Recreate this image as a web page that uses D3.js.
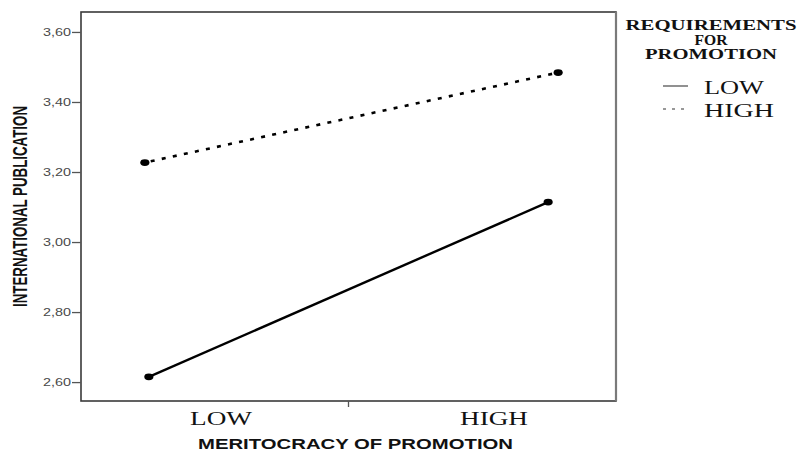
<!DOCTYPE html>
<html>
<head>
<meta charset="utf-8">
<script src="https://cdn.jsdelivr.net/npm/d3@7"></script>
<style>
  html, body { margin: 0; padding: 0; background: #fff; }
  svg { display: block; }
</style>
</head>
<body>
<svg id="chart" width="800" height="454"></svg>
<script>
// ---- data ----
const categories = ["LOW", "HIGH"];                 // meritocracy of promotion
const seriesNames = ["LOW", "HIGH"];                // requirements for promotion
const lowRequirementValues = [2.615, 3.114];
const highRequirementValues = [3.227, 3.484];
const yTickValues = [2.6, 2.8, 3.0, 3.2, 3.4, 3.6];
const xAxisTitle = "MERITOCRACY OF PROMOTION";
const yAxisTitle = "INTERNATIONAL PUBLICATION";
const legendTitleLines = ["REQUIREMENTS", "FOR", "PROMOTION"];

// ---- layout / style ----
const W = 800, H = 454;
const plot = { left: 81, top: 12, right: 616, bottom: 401 };
const series = [
  { name: seriesNames[0], values: lowRequirementValues, dash: null, nudge: [3, -3] },
  { name: seriesNames[1], values: highRequirementValues, dash: "4,7.3", nudge: [-1, 7] }
];

const svg = d3.select("#chart");
svg.append("rect").attr("width", W).attr("height", H).attr("fill", "#fff");

const y = d3.scaleLinear().domain([2.546, 3.657]).range([plot.bottom, plot.top]);
const x = d3.scalePoint().domain(categories).range([plot.left, plot.right]).padding(0.16);
const xLabel = d3.scalePoint().domain(categories).range([221, 494]);

// frame
svg.append("rect")
  .attr("x", plot.left).attr("y", plot.top)
  .attr("width", plot.right - plot.left).attr("height", plot.bottom - plot.top)
  .attr("fill", "none").attr("stroke", "#3a3a3a").attr("stroke-width", 1.6);
svg.append("line")
  .attr("x1", plot.right).attr("x2", plot.right).attr("y1", plot.top).attr("y2", plot.bottom)
  .attr("stroke", "#7a7a7a").attr("stroke-width", 2.2);

// y axis
const yAxis = d3.axisLeft(y)
  .tickValues(yTickValues)
  .tickSize(9)
  .tickPadding(1)
  .tickFormat(d => d3.format(".2f")(d).replace(".", ","));
const gy = svg.append("g").attr("transform", `translate(${plot.left},0)`).call(yAxis);
gy.select(".domain").remove();
gy.selectAll(".tick line").attr("stroke", "#555").attr("stroke-width", 1.3);
gy.selectAll(".tick text")
  .attr("fill", "#4a4a4a")
  .attr("font-family", "Liberation Sans, Arial, sans-serif")
  .attr("font-size", 10.5)
  .attr("textLength", 28)
  .attr("lengthAdjust", "spacingAndGlyphs")
  .attr("dy", "0.34em");

// x axis: single middle tick
const midX = (x(categories[0]) + x(categories[1])) / 2;
svg.append("line")
  .attr("x1", midX).attr("x2", midX)
  .attr("y1", plot.bottom).attr("y2", plot.bottom + 6)
  .attr("stroke", "#555").attr("stroke-width", 1.3);

const xLabelWidths = { LOW: 62, HIGH: 68 };
svg.append("g").selectAll("text").data(categories).join("text")
  .attr("x", d => xLabel(d))
  .attr("y", 425)
  .attr("text-anchor", "middle")
  .attr("fill", "#111")
  .attr("font-family", "Liberation Serif, Times New Roman, serif")
  .attr("font-size", 19.5)
  .attr("textLength", d => xLabelWidths[d])
  .attr("lengthAdjust", "spacingAndGlyphs")
  .text(d => d);

// axis titles
svg.append("text")
  .attr("x", 355.5).attr("y", 449)
  .attr("text-anchor", "middle")
  .attr("fill", "#111")
  .attr("font-family", "Liberation Sans, Arial, sans-serif")
  .attr("font-weight", "bold")
  .attr("font-size", 15)
  .attr("textLength", 315)
  .attr("lengthAdjust", "spacingAndGlyphs")
  .text(xAxisTitle);

svg.append("text")
  .attr("transform", "translate(26.5,206.5) rotate(-90) scale(1,1.45)")
  .attr("text-anchor", "middle")
  .attr("fill", "#111")
  .attr("font-family", "Liberation Sans, Arial, sans-serif")
  .attr("font-weight", "bold")
  .attr("font-size", 13.5)
  .attr("textLength", 201)
  .attr("lengthAdjust", "spacingAndGlyphs")
  .text(yAxisTitle);

// series lines + markers
const line = d3.line()
  .x(d => d.x)
  .y(d => y(d.v));

series.forEach(s => {
  const pts = categories.map((c, i) => ({ x: x(c) + s.nudge[i], v: s.values[i] }));
  svg.append("path")
    .attr("d", line(pts))
    .attr("fill", "none")
    .attr("stroke", "#000")
    .attr("stroke-width", s.dash ? 2.6 : 2.4)
    .attr("stroke-dasharray", s.dash)
    .attr("stroke-dashoffset", s.dash ? -6 : null);
  svg.append("g").selectAll("ellipse").data(pts).join("ellipse")
    .attr("cx", d => d.x).attr("cy", d => y(d.v))
    .attr("rx", 4.6).attr("ry", 3.4)
    .attr("fill", "#000");
});

// legend
const legendCenter = 711;
const titleWidths = [171, 33, 132];
const titleBaselines = [30, 44.5, 58.8];
svg.append("g").selectAll("text").data(legendTitleLines).join("text")
  .attr("x", legendCenter)
  .attr("y", (d, i) => titleBaselines[i])
  .attr("text-anchor", "middle")
  .attr("fill", "#111")
  .attr("font-family", "Liberation Serif, Times New Roman, serif")
  .attr("font-weight", "bold")
  .attr("font-size", 14)
  .attr("textLength", (d, i) => titleWidths[i])
  .attr("lengthAdjust", "spacingAndGlyphs")
  .text(d => d);

const legendRows = d3.scalePoint().domain(seriesNames).range([86, 109]);
const legendTextWidths = { LOW: 60, HIGH: 70 };
const lg = svg.append("g");
series.forEach(s => {
  const yy = legendRows(s.name);
  lg.append("line")
    .attr("x1", 663).attr("x2", 688).attr("y1", yy).attr("y2", yy)
    .attr("stroke", s.dash ? "#777" : "#555")
    .attr("stroke-width", s.dash ? 1.6 : 1.3)
    .attr("stroke-dasharray", s.dash ? "3,6" : null);
  lg.append("text")
    .attr("x", 704).attr("y", yy + 7.5)
    .attr("fill", "#111")
    .attr("font-family", "Liberation Serif, Times New Roman, serif")
    .attr("font-size", 19.5)
    .attr("textLength", legendTextWidths[s.name])
    .attr("lengthAdjust", "spacingAndGlyphs")
    .text(s.name);
});
</script>
</body>
</html>
